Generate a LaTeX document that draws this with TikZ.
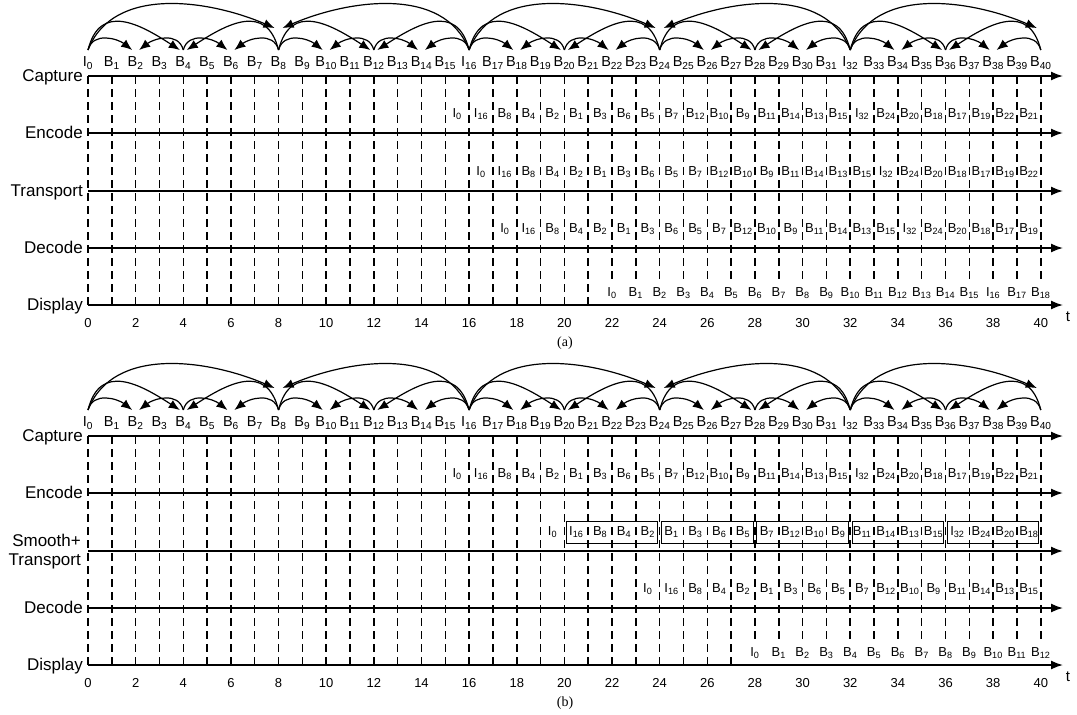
\documentclass[tikz,border=0pt]{standalone}
\usepackage{fontspec}
\setmainfont{Liberation Sans}
\newfontfamily\capserif{Liberation Serif}
\usetikzlibrary{arrows.meta}
\begin{document}
\begin{tikzpicture}[x=1pt,y=-1pt,
  axisline/.style={line width=1.6pt,-{Latex[length=12pt,width=9pt]}},
  tickline/.style={line width=1.5pt,dash pattern=on 8pt off 5pt},
  arcline/.style={line width=1.2pt,-{Latex[length=11pt,width=9pt]}},
  rowlabel/.style={anchor=base east,font=\fontsize{17}{20}\selectfont,inner sep=0pt},
  caplabel/.style={font=\fontsize{14.5}{16}\selectfont,inner sep=0pt},
  slotlabel/.style={font=\fontsize{13}{15}\selectfont,inner sep=0pt},
  numlabel/.style={font=\fontsize{13}{15}\selectfont,inner sep=0pt,anchor=base},
  boxframe/.style={line width=1pt},
  figcaption/.style={font=\capserif\fontsize{14}{16}\selectfont,inner sep=0pt}]
\useasboundingbox (0,0) rectangle (1077,715);

% ---------- common parts of both panels ----------
\foreach \p/\dy/\dstop in {a/0/22,b/360/28}{
  % dashed time lines
  \foreach \t in {0,...,40}{
    \pgfmathsetmacro\xx{88+23.82*\t}
    \ifnum\t<\dstop \def\yend{305}\else\def\yend{281}\fi
    \draw[tickline] (\xx,{76+\dy}) -- (\xx,{\yend+\dy});
    \coordinate (p\p\t) at (\xx,{50+\dy});
    \pgfmathtruncatemacro\m{mod(\t,16)}
    \ifnum\m=0 \def\L{I}\else\def\L{B}\fi
    \node[caplabel] (cap\p\t) at (\xx,{63+\dy}) {\L\textsubscript{\t}};
  }
  % axis numbers
  \foreach \t in {0,2,...,40}{
    \node[numlabel] (num\p\t) at ({88+23.82*\t},{327+\dy}) {\t};
  }
  \node[caplabel,font=\fontsize{15}{17}\selectfont] (t\p) at (1068,{317+\dy}) {t};
  % axes
  \foreach \ay in {76,133,191,248,305}{
    \draw[axisline] (88,{\ay+\dy}) -- (1063,{\ay+\dy});
  }
  % reference arcs
  \foreach \s/\e in {0/2,4/6,8/10,12/14,16/18,20/22,24/26,28/30,32/34,36/38}{
    \draw[arcline] (p\p\s) .. controls +(5,-19) and +(-14,-11) .. ([xshift=-3.5pt]p\p\e);}
  \foreach \s/\e in {4/2,8/6,12/10,16/14,20/18,24/22,28/26,32/30,36/34,40/38}{
    \draw[arcline] (p\p\s) .. controls +(-5,-19) and +(14,-11) .. ([xshift=3.5pt]p\p\e);}
  \foreach \s/\e in {0/4,8/12,16/20,24/28,32/36}{
    \draw[arcline] (p\p\s) .. controls +(12,-48) and +(-40,-26) .. ([xshift=-3.5pt]p\p\e);}
  \foreach \s/\e in {8/4,16/12,24/20,32/28,40/36}{
    \draw[arcline] (p\p\s) .. controls +(-12,-48) and +(40,-26) .. ([xshift=3.5pt]p\p\e);}
  \foreach \s/\e in {0/8,16/24,32/40}{
    \draw[arcline] (p\p\s) .. controls +(25,-65) and +(-65,-28) .. ([xshift=-4pt,yshift=22pt]p\p\e);}
  \foreach \s/\e in {16/8,32/24}{
    \draw[arcline] (p\p\s) .. controls +(-25,-65) and +(65,-28) .. ([xshift=4pt,yshift=22pt]p\p\e);}
  % encode row (same in both panels)
  \foreach \L/\n [count=\i from 15] in {I/0,I/16,B/8,B/4,B/2,B/1,B/3,B/6,B/5,B/7,B/12,B/10,B/9,B/11,B/14,B/13,B/15,I/32,B/24,B/20,B/18,B/17,B/19,B/22,B/21}{
    \node[slotlabel] (enc\p\i) at ({88+23.82*(\i+0.5)},{114+\dy}) {\L\textsubscript{\n}};}
}

% ---------- panel (a) ----------
\node[rowlabel] (lcapa) at (83,81) {Capture};
\node[rowlabel] (lenca) at (83,138) {Encode};
\node[rowlabel] (ltra) at (83,196) {Transport};
\node[rowlabel] (ldeca) at (83,253) {Decode};
\node[rowlabel] (ldisa) at (83,310) {Display};

\foreach \L/\n [count=\i from 16] in {I/0,I/16,B/8,B/4,B/2,B/1,B/3,B/6,B/5,B/7,B/12,B/10,B/9,B/11,B/14,B/13,B/15,I/32,B/24,B/20,B/18,B/17,B/19,B/22}{
  \node[slotlabel] (tra\i) at ({88+23.82*(\i+0.5)},172) {\L\textsubscript{\n}};}
\foreach \L/\n [count=\i from 17] in {I/0,I/16,B/8,B/4,B/2,B/1,B/3,B/6,B/5,B/7,B/12,B/10,B/9,B/11,B/14,B/13,B/15,I/32,B/24,B/20,B/18,B/17,B/19}{
  \node[slotlabel] (deca\i) at ({88+23.82*(\i+0.5)},229) {\L\textsubscript{\n}};}
\foreach \L/\n [count=\i from 22] in {I/0,B/1,B/2,B/3,B/4,B/5,B/6,B/7,B/8,B/9,B/10,B/11,B/12,B/13,B/14,B/15,I/16,B/17,B/18}{
  \node[slotlabel] (disa\i) at ({88+23.82*\i},293) {\L\textsubscript{\n}};}
\node[figcaption] (capta) at (565,343) {(a)};

% ---------- panel (b) ----------
\node[rowlabel] (lcapb) at (83,441) {Capture};
\node[rowlabel] (lencb) at (83,498) {Encode};
\node[rowlabel] (lstb1) at (81,546) {Smooth+};
\node[rowlabel] (lstb2) at (81,565) {Transport};
\node[rowlabel] (ldecb) at (83,613) {Decode};
\node[rowlabel] (ldisb) at (83,670) {Display};

\foreach \L/\n [count=\i from 19] in {I/0,I/16,B/8,B/4,B/2,B/1,B/3,B/6,B/5,B/7,B/12,B/10,B/9,B/11,B/14,B/13,B/15,I/32,B/24,B/20,B/18}{
  \node[slotlabel] (stb\i) at ({88+23.82*(\i+0.5)},532) {\L\textsubscript{\n}};}
\foreach \s in {20,24,28,32,36}{
  \draw[boxframe] ({88+23.82*(\s+0.08)},521) rectangle ({88+23.82*(\s+3.92)},543);}
\foreach \L/\n [count=\i from 23] in {I/0,I/16,B/8,B/4,B/2,B/1,B/3,B/6,B/5,B/7,B/12,B/10,B/9,B/11,B/14,B/13,B/15}{
  \node[slotlabel] (decb\i) at ({88+23.82*(\i+0.5)},589) {\L\textsubscript{\n}};}
\foreach \L/\n [count=\i from 28] in {I/0,B/1,B/2,B/3,B/4,B/5,B/6,B/7,B/8,B/9,B/10,B/11,B/12}{
  \node[slotlabel] (disb\i) at ({88+23.82*\i},653) {\L\textsubscript{\n}};}
\node[figcaption] (captb) at (565,703) {(b)};
\end{tikzpicture}
\end{document}
